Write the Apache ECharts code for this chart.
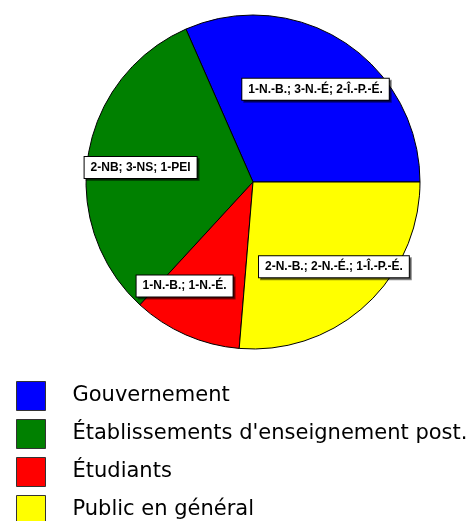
<!DOCTYPE html>
<html>
<head>
<meta charset="utf-8">
<script src="https://cdn.jsdelivr.net/npm/echarts@6/dist/echarts.min.js"></script>
<style>
  html, body { margin: 0; padding: 0; background: #fff; }
  #chart { width: 471px; height: 521px; }
</style>
</head>
<body>
<div id="chart"></div>
<script>
// categories (legend order) and the number of participants per group
const categories = ['Gouvernement', "Établissements d'enseignement post.", 'Étudiants', 'Public en général'];
const values = [6, 6, 2, 5];
const sliceLabels = ['1-N.-B.; 3-N.-É; 2-Î.-P.-É.', '2-NB; 3-NS; 1-PEI', '1-N.-B.; 1-N.-É.', '2-N.-B.; 2-N.-É.; 1-Î.-P.-É.'];
const colors = ['#0000ff', '#008000', '#ff0000', '#ffff00'];

const chart = echarts.init(document.getElementById('chart'));

// small nudges so the boxed labels sit where the original put them
const labelNudge = [[-2, 6], [4, 5], [-21, -4], [1, -2]];

const option = {
  animation: false,
  legend: {
    orient: 'vertical',
    left: 16,
    top: 381,
    height: 200,
    padding: 0,
    itemWidth: 29,
    itemHeight: 29,
    itemGap: 8,
    icon: 'rect',
    selectedMode: false,
    data: categories,
    itemStyle: { borderColor: '#333', borderWidth: 1 },
    textStyle: {
      fontFamily: 'DejaVu Sans, sans-serif',
      fontSize: 21,
      color: '#000',
      padding: [7, 0, 0, 22]
    }
  },
  series: [
    {
      // the coloured slices
      type: 'pie',
      center: [253, 182],
      radius: 167,
      startAngle: 0,
      clockwise: false,
      silent: true,
      label: { show: false },
      labelLine: { show: false },
      itemStyle: { borderColor: '#000', borderWidth: 1 },
      emphasis: { disabled: true },
      data: categories.map((name, i) => ({
        name: name,
        value: values[i],
        itemStyle: { color: colors[i] }
      }))
    },
    {
      // transparent ring only used to place the boxed labels further out
      type: 'pie',
      center: [253, 182],
      radius: [60, 170],
      startAngle: 0,
      clockwise: false,
      silent: true,
      avoidLabelOverlap: false,
      itemStyle: { color: 'rgba(0,0,0,0)' },
      emphasis: { disabled: true },
      labelLine: { show: false },
      label: {
        show: true,
        position: 'inside',
        formatter: p => sliceLabels[p.dataIndex],
        fontFamily: 'Liberation Sans, Arial, sans-serif',
        fontWeight: 'bold',
        fontSize: 12,
        color: '#000',
        backgroundColor: '#fff',
        borderColor: '#000',
        borderWidth: 1,
        padding: [5, 6, 4, 6],
        shadowColor: 'rgba(0,0,0,0.45)',
        shadowOffsetX: 2,
        shadowOffsetY: 2,
        shadowBlur: 0
      },
      data: categories.map((name, i) => ({
        name: name,
        value: values[i],
        label: { offset: labelNudge[i] }
      }))
    }
  ]
};

chart.setOption(option);
</script>
</body>
</html>
